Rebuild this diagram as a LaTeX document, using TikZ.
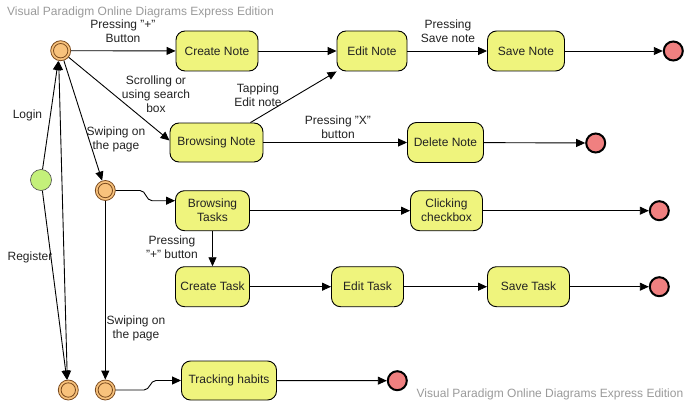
\documentclass[tikz,border=0pt]{standalone}
\usepackage{fontspec}
\setmainfont{Liberation Sans}
\usetikzlibrary{arrows.meta,calc}
\definecolor{boxfill}{HTML}{EFF47D}
\definecolor{ringfill}{HTML}{F8C27C}
\definecolor{ringline}{HTML}{7A4A1E}
\definecolor{endfill}{HTML}{F08080}
\definecolor{startfill}{HTML}{C4F07A}
\definecolor{wmgray}{HTML}{9A9A9A}
\definecolor{txt}{HTML}{222222}
\tikzset{
  stbox/.style={draw=black, line width=0.9pt, fill=boxfill, rounded corners=9pt,
    minimum height=40pt, inner sep=0pt, align=center, font=\fontsize{12}{14}\selectfont, text=txt},
  ring/.style={circle, draw=ringline, line width=0.8pt, fill=ringfill, minimum size=20pt, inner sep=0pt,
    path picture={\draw[ringline, line width=0.8pt] (path picture bounding box.center) circle[radius=7.2pt];}},
  endst/.style={circle, draw=black, line width=2pt, fill=endfill, minimum size=19pt, inner sep=0pt},
  startst/.style={circle, draw=black!70, line width=0.6pt, fill=startfill, minimum size=21pt, inner sep=0pt},
  conn/.style={draw=black, line width=0.9pt, -{Triangle[length=9pt,width=8pt]}},
  lbl/.style={align=center, inner sep=0pt, font=\fontsize{12}{14}\selectfont, text=txt},
  wm/.style={inner sep=0pt, font=\fontsize{12}{14}\selectfont, text=wmgray}
}
\begin{document}
\begin{tikzpicture}[x=1pt,y=-1pt]
\useasboundingbox (0,0) rectangle (688,404);
% watermarks
\node[wm, anchor=west] (wm1) at (7,12) {Visual Paradigm Online Diagrams Express Edition};
\node[wm, anchor=west] (wm2) at (416.5,394.5) {Visual Paradigm Online Diagrams Express Edition};
% states
\node[ring] (r1) at (60.7,50.7) {};
\node[startst] (g) at (41,180) {};
\node[ring] (r2) at (105.3,190.5) {};
\node[ring] (b1) at (68.3,390) {};
\node[ring] (b2) at (105.3,390) {};
\node[stbox, minimum width=82pt] (cn) at (217,51) {Create Note};
\node[stbox, minimum width=70pt] (en) at (372,51) {Edit Note};
\node[stbox, minimum width=77pt] (sn) at (526,51) {Save Note};
\node[endst] (e1) at (673.3,51) {};
\node[stbox, minimum width=93pt, minimum height=39pt] (bn) at (216.5,142.5) {Browsing Note};
\node[stbox, minimum width=76pt] (dn) at (445.5,142.5) {Delete Note};
\node[endst] (e2) at (595.7,143) {};
\node[stbox, minimum width=74pt] (bt) at (212.5,210.7) {Browsing\\Tasks};
\node[stbox, minimum width=72pt] (cc) at (446.5,210.7) {Clicking\\checkbox};
\node[endst] (e3) at (659.3,210.7) {};
\node[stbox, minimum width=74pt] (ct) at (212.5,286.7) {Create Task};
\node[stbox, minimum width=72pt] (et) at (367.5,286.7) {Edit Task};
\node[stbox, minimum width=82pt] (st) at (528.5,286.7) {Save Task};
\node[endst] (e4) at (659.3,286.7) {};
\node[stbox, minimum width=95pt, minimum height=39pt] (th) at (229,380.5) {Tracking habits};
\node[endst] (e5) at (397.3,380.7) {};
% connectors
\draw[conn] (r1) -- (cn);
\draw[conn] (cn) -- (en);
\draw[conn] (en) -- (sn);
\draw[conn] (sn) -- (e1);
\draw[conn] (r1) -- ([yshift=2pt]bn.west);
\draw[conn] ([xshift=-13pt]bn.north east) -- (en.south west);
\draw[conn] (bn) -- (dn);
\draw[conn] (dn) -- (e2);
\draw[conn] (r1) -- (r2);
\draw[conn] (g) -- ([xshift=-2.5pt]r1.south);
\draw[conn] (g) -- ([xshift=-1.5pt]b1.north);
\draw[draw=black, line width=0.9pt, {Triangle[length=9pt,width=8pt]}-{Triangle[length=9pt,width=8pt]}] ([xshift=-2pt]r1.south) -- ([xshift=-1pt]b1.north);
\coordinate (k1) at (140,190.5);
\coordinate (k2) at (152,200.7);
\draw[conn] (r2.east) -- (k1) to[out=0,in=180] (k2) -- ([yshift=10pt]bt.west);
\draw[conn] (r2) -- (b2);
\coordinate (k3) at (144,390);
\coordinate (k4) at (156,380.5);
\draw[conn] (b2.east) -- (k3) to[out=0,in=180] (k4) -- (th.west);
\draw[conn] (th) -- (e5);
\draw[conn] (bt) -- (ct);
\draw[conn] (bt) -- (cc);
\draw[conn] (cc) -- (e3);
\draw[conn] (ct) -- (et);
\draw[conn] (et) -- (st);
\draw[conn] (st) -- (e4);
% labels
\node[lbl] (l1) at (123,31) {Pressing "+"\\Button};
\node[lbl] (l2) at (448,31) {Pressing\\Save note};
\node[lbl] (l3) at (156,94) {Scrolling or\\using search\\box};
\node[lbl] (l4) at (258,95) {Tapping\\Edit note};
\node[lbl] (l5) at (338,127) {Pressing "X"\\button};
\node[lbl] (l6) at (116,139) {Swiping on\\the page};
\node[lbl] (l7) at (27.5,115) {Login};
\node[lbl] (l8) at (30,257) {Register};
\node[lbl] (l9) at (172,247) {Pressing\\"+" button};
\node[lbl] (l10) at (136,328) {Swiping on\\the page};
\end{tikzpicture}
\end{document}
